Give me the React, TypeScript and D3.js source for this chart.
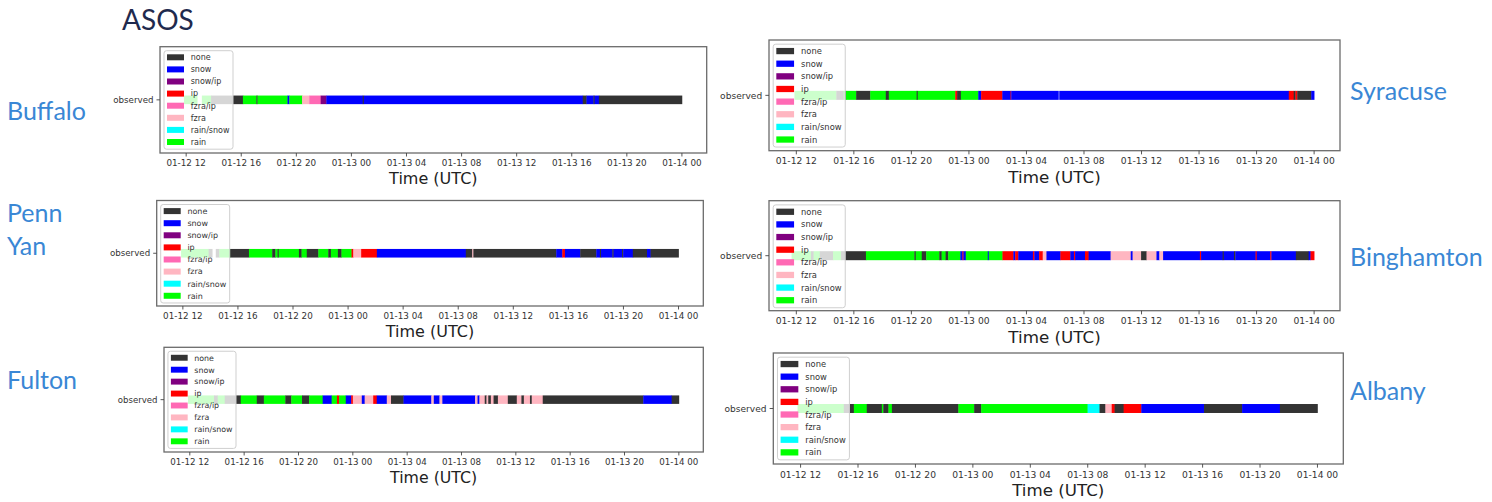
import React from 'react';
import * as d3 from 'd3';

// ---------- data ----------
const chartTitle = 'ASOS';
const seriesName = 'observed';
const xAxisTitle = 'Time (UTC)';
const categories = ['none', 'snow', 'snow/ip', 'ip', 'fzra/ip', 'fzra', 'rain/snow', 'rain'];
const categoryColors = ['#333333', '#0000ff', '#800080', '#ff0000', '#ff69b4', '#ffb6c1', '#00ffff', '#00ff00'];
// hours since 01-12 00 UTC
const tickHours = [12, 16, 20, 24, 28, 32, 36, 40, 44, 48];
const tickLabels = ['01-12 12', '01-12 16', '01-12 20', '01-13 00', '01-13 04', '01-13 08', '01-13 12', '01-13 16', '01-13 20', '01-14 00'];
const xDomain = [10.1, 49.8];

const stationNames = ['Buffalo', 'Syracuse', 'Penn Yan', 'Binghamton', 'Fulton', 'Albany'];

// segment i spans [times[i], times[i+1]] with type types[i] ('' = no report)
const buffaloTimes = [11.84, 12.8, 13.14, 13.81, 16.12, 17.1, 17.18, 19.36, 19.49, 20.42, 20.94, 21.77, 22.18, 24.82, 24.9, 40.8, 41.07, 41.58, 41.66, 41.97, 48];
const buffaloTypes = ['rain', '', 'rain', 'none', 'rain', 'none', 'rain', 'snow', 'rain', 'fzra', 'fzra/ip', 'snow/ip', 'snow', 'none', 'snow', 'none', 'snow', 'none', 'snow', 'none'];

const syracuseTimes = [11.87, 14.78, 15.29, 15.38, 15.45, 16.16, 17.14, 18.22, 18.43, 20.36, 20.44, 23.05, 23.18, 23.44, 24.65, 24.85, 26.32, 26.86, 26.95, 30.22, 30.28, 46.24, 46.58, 46.7, 46.83, 47.8, 48];
const syracuseTypes = ['rain', 'none', 'rain', 'none', 'rain', 'none', 'rain', 'none', 'rain', 'none', 'rain', 'ip', 'none', 'rain', 'snow', 'ip', 'snow', 'snow/ip', 'snow', '', 'snow', 'ip', 'none', 'ip', 'none', 'snow'];

const pennYanTimes = [11.87, 13.87, 14.13, 14.39, 14.65, 15.43, 16.8, 18.49, 18.72, 18.88, 18.96, 20.43, 20.62, 21.0, 21.84, 22.56, 22.75, 23.26, 23.52, 24.25, 24.38, 24.95, 26.09, 32.55, 33.02, 33.1, 39.12, 39.56, 39.75, 40.86, 42.03, 42.29, 42.37, 43.2, 43.28, 43.9, 43.98, 44.68, 45.71, 45.97, 48];
const pennYanTypes = ['rain', 'none', '', 'none', 'rain', 'none', 'rain', 'none', 'rain', 'none', 'rain', 'none', 'rain', 'none', 'rain', 'none', 'rain', 'none', 'rain', 'ip', 'fzra', 'ip', 'snow', 'none', 'fzra', 'none', 'snow', 'ip', 'snow', 'none', 'snow', 'none', 'snow', 'none', 'snow', 'none', 'snow', 'none', 'snow', 'none'];

const binghamtonTimes = [11.67, 13.02, 13.2, 13.63, 14.55, 15.11, 16.84, 20.21, 20.3, 20.72, 21.03, 21.94, 22.1, 22.38, 22.56, 23.4, 23.55, 23.62, 23.78, 25.31, 25.38, 26.33, 27.09, 27.22, 27.43, 28.45, 28.55, 28.88, 29.13, 29.39, 30.36, 31.05, 31.3, 31.38, 32.07, 32.32, 33.85, 35.25, 35.38, 35.97, 36.35, 37.04, 37.24, 37.5, 40.06, 40.14, 41.64, 41.72, 42.43, 42.52, 43.93, 44.01, 44.95, 45.03, 46.73, 47.62, 47.75, 48];
const binghamtonTypes = ['rain', 'none', 'rain', 'none', 'rain', 'none', 'rain', 'none', 'rain', 'none', 'rain', 'none', 'rain', 'none', 'rain', 'snow', 'ip', 'snow', 'rain', 'snow', 'rain', 'ip', 'snow', 'ip', 'snow', 'ip', 'snow', 'ip', 'fzra', 'snow', 'ip', 'snow', 'ip', 'snow', 'ip', 'snow', 'fzra', 'snow', 'fzra', 'none', 'fzra', 'snow', 'fzra', 'snow', 'ip', 'snow', 'none', 'snow', 'none', 'snow', 'ip', 'snow', 'ip', 'snow', 'none', 'snow', 'ip'];

const fultonTimes = [11.87, 13.78, 14.05, 14.57, 15.75, 16.93, 17.45, 19.03, 19.47, 20.26, 20.78, 21.78, 22.44, 22.83, 22.99, 23.48, 23.88, 24.0, 24.66, 24.87, 25.5, 25.76, 26.5, 26.81, 27.73, 29.78, 29.96, 30.38, 30.59, 33.0, 33.18, 33.32, 33.71, 33.84, 33.97, 34.16, 34.36, 34.68, 35.41, 36.07, 36.41, 36.59, 37.04, 37.17, 37.98, 45.38, 47.47, 48];
const fultonTypes = ['rain', 'none', 'rain', 'none', 'rain', 'none', 'rain', 'none', 'rain', 'none', 'rain', 'snow', 'rain', 'ip', 'rain', 'snow', 'ip', 'fzra', 'snow', 'fzra', 'ip', 'snow', 'fzra', 'none', 'snow', 'fzra', 'snow', 'fzra', 'snow', 'fzra', 'snow', 'fzra', 'none', 'fzra', 'none', 'fzra', 'none', 'fzra', 'none', 'fzra', 'none', 'fzra', 'none', 'fzra', 'none', 'snow', 'none'];

const albanyTimes = [11.79, 15.01, 15.71, 16.61, 17.66, 17.76, 18.12, 18.36, 22.99, 24.09, 24.58, 31.99, 32.82, 33.23, 33.67, 33.87, 34.5, 35.73, 40.1, 42.75, 45.38, 48];
const albanyTypes = ['rain', 'none', 'rain', 'none', 'rain', 'none', 'rain', 'none', 'rain', 'none', 'rain', 'rain/snow', 'none', 'fzra', 'ip', 'none', 'ip', 'snow', 'none', 'snow', 'none'];

const stationTimes = [buffaloTimes, syracuseTimes, pennYanTimes, binghamtonTimes, fultonTimes, albanyTimes];
const stationTypes = [buffaloTypes, syracuseTypes, pennYanTypes, binghamtonTypes, fultonTypes, albanyTypes];

// ---------- layout ----------
const W = 1492;
const H = 502;
// [left, top, right, bottom] of each axes frame
const panelBoxes = [
  [160, 46.7, 706.7, 153],
  [769, 40, 1340, 150.7],
  [156.7, 200.5, 703.3, 306],
  [769, 200.7, 1340, 310.7],
  [164, 347.3, 703.3, 452],
  [773.3, 353, 1343.3, 464],
];
// station name placement: x, baselines per line
const nameLayout = [
  { x: 7, ys: [120] },
  { x: 1350, ys: [100] },
  { x: 7, ys: [221.7, 255] },
  { x: 1350, ys: [266] },
  { x: 7, ys: [389] },
  { x: 1350, ys: [400] },
];

const chartFont = '"DejaVu Sans", sans-serif';
const slideFont = 'Lato, "Open Sans", sans-serif';
const nameColor = '#3a87d5';
const titleColor = '#1f2a4e';

const color = d3.scaleOrdinal<string, string>().domain(categories).range(categoryColors);

function Panel({ idx }: { idx: number }) {
  const [x0, y0, x1, y1] = panelBoxes[idx];
  const s = (x1 - x0) / 546.7;
  const x = d3.scaleLinear().domain(xDomain).range([x0, x1]);
  const y = d3.scalePoint<string>().domain([seriesName]).range([y0, y1]).padding(0.5);
  const cy = y(seriesName) as number;
  const barH = 8.6 * s;
  const times = stationTimes[idx];
  const types = stationTypes[idx];
  const segs = types
    .map((t, i) => ({ t, a: times[i], b: times[i + 1] }))
    .filter((d) => d.t !== '');

  const legX = x0 + 4 * s;
  const legY = y0 + 4 * s;
  const legW = 69 * s;
  const legH = 98.5 * s;
  const rowH = 12.1 * s;
  const legFont = 8 * s;
  const tickFont = 8.8 * s;

  return (
    <g>
      <rect x={x0} y={y0} width={x1 - x0} height={y1 - y0} fill="#ffffff" />
      {segs.map((d, i) => (
        <rect
          key={i}
          x={x(d.a)}
          y={cy - barH / 2}
          width={Math.max(0.6, x(d.b) - x(d.a) + 0.35)}
          height={barH}
          fill={color(d.t)}
        />
      ))}
      {/* legend */}
      <rect
        x={legX}
        y={legY}
        width={legW}
        height={legH}
        rx={2.5 * s}
        fill="#ffffff"
        fillOpacity={0.8}
        stroke="#cfcfcf"
        strokeWidth={1}
      />
      {categories.map((c, i) => {
        const ry = legY + 6.6 * s + i * rowH;
        return (
          <g key={c}>
            <rect x={legX + 3 * s} y={ry - 3 * s} width={17 * s} height={6 * s} fill={color(c)} />
            <text
              x={legX + 26.7 * s}
              y={ry + legFont * 0.36}
              fontSize={legFont}
              fontFamily={chartFont}
              fill="#333"
            >
              {c}
            </text>
          </g>
        );
      })}
      {/* frame */}
      <rect x={x0} y={y0} width={x1 - x0} height={y1 - y0} fill="none" stroke="#6b6b6b" strokeWidth={1.3} />
      {/* y tick */}
      <line x1={x0 - 3.5 * s} x2={x0} y1={cy} y2={cy} stroke="#444" strokeWidth={0.9} />
      <text
        x={x0 - 6.5 * s}
        y={cy + 8.7 * s * 0.36}
        textAnchor="end"
        fontSize={8.7 * s}
        fontFamily={chartFont}
        fill="#333"
      >
        {seriesName}
      </text>
      {/* x ticks */}
      {tickHours.map((h, i) => (
        <g key={h}>
          <line x1={x(h)} x2={x(h)} y1={y1} y2={y1 + 3.5 * s} stroke="#444" strokeWidth={0.9} />
          <text
            x={x(h)}
            y={y1 + 13.2 * s}
            textAnchor="middle"
            fontSize={tickFont}
            fontFamily={chartFont}
            fill="#333"
          >
            {tickLabels[i]}
          </text>
        </g>
      ))}
      <text
        x={(x0 + x1) / 2}
        y={y1 + 31 * s}
        textAnchor="middle"
        fontSize={16 * s}
        fontFamily={chartFont}
        fill="#222"
      >
        {xAxisTitle}
      </text>
    </g>
  );
}

export default function App() {
  return (
    <svg
      width={W}
      height={H}
      viewBox={`0 0 ${W} ${H}`}
      style={{ position: 'absolute', left: 0, top: 0, background: '#ffffff' }}
    >
      <rect x={0} y={0} width={W} height={H} fill="#ffffff" />
      <text x={122} y={30} fontSize={28} fontFamily={slideFont} fill={titleColor}>
        {chartTitle}
      </text>
      {stationNames.map((name, i) => {
        const lay = nameLayout[i];
        const lines = lay.ys.length > 1 ? name.split(' ') : [name];
        return lines.map((ln, j) => (
          <text key={`${i}-${j}`} x={lay.x} y={lay.ys[j]} fontSize={25} fontFamily={slideFont} fill={nameColor}>
            {ln}
          </text>
        ));
      })}
      {stationNames.map((_, i) => (
        <Panel key={i} idx={i} />
      ))}
    </svg>
  );
}
